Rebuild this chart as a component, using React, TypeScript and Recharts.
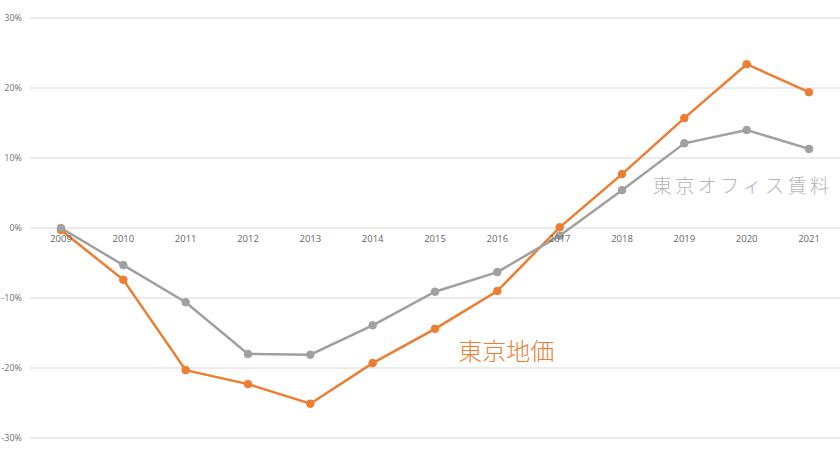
import React from "react";
import { CartesianGrid, LineChart, Line, XAxis, YAxis, ReferenceDot } from "recharts";

const years = ["2009", "2010", "2011", "2012", "2013", "2014", "2015", "2016", "2017", "2018", "2019", "2020", "2021"];
const landPrice = [-0.3, -7.4, -20.3, -22.3, -25.1, -19.3, -14.4, -9.0, 0.1, 7.7, 15.7, 23.4, 19.4];
const officeRent = [0, -5.3, -10.6, -18.0, -18.1, -13.9, -9.1, -6.3, -1.1, 5.4, 12.1, 14.0, 11.3];
const yTicks = [-30, -20, -10, 0, 10, 20, 30];

const data = years.map((year, i) => ({
  year,
  land: landPrice[i],
  office: officeRent[i],
}));

const ORANGE = "#ED7D31";
const GRAY = "#A0A0A0";
const JP_FONT = "'Noto Sans CJK JP', sans-serif";

function App() {
  return (
    <div style={{ position: "absolute", left: 0, top: 0 }}>
      <LineChart
        width={840}
        height={456}
        data={data}
        margin={{ top: 18, right: 0, bottom: 18, left: 0 }}
      >
        <CartesianGrid vertical={false} stroke="#e4e4e4" strokeWidth={1.5} />
        <XAxis dataKey="year" hide padding={{ left: 31, right: 31 }} />
        <YAxis
          width={30}
          domain={[-30, 30]}
          ticks={yTicks}
          tickFormatter={(v) => `${v}%`}
          axisLine={false}
          tickLine={false}
          tick={{ fontSize: 9, fill: "#707070", fontFamily: "'Open Sans', sans-serif" }}
        />
        {years.map((y) => (
          <ReferenceDot
            key={y}
            x={y}
            y={0}
            r={0}
            stroke="none"
            label={{
              value: y,
              position: "bottom",
              offset: 7,
              fontSize: 9.5,
              fill: "#666",
              fontFamily: "'Open Sans', sans-serif",
            }}
          />
        ))}
        <Line
          dataKey="land"
          stroke={ORANGE}
          strokeWidth={2.5}
          dot={{ r: 3.8, fill: ORANGE, stroke: ORANGE, strokeWidth: 1 }}
          isAnimationActive={false}
        />
        <Line
          dataKey="office"
          stroke={GRAY}
          strokeWidth={2.5}
          dot={{ r: 3.8, fill: GRAY, stroke: GRAY, strokeWidth: 1 }}
          isAnimationActive={false}
        />
        <ReferenceDot
          x="2016"
          y={-17.7}
          r={0}
          stroke="none"
          label={{
            value: "東京地価",
            position: "center",
            fontSize: 24,
            fill: ORANGE,
            fontFamily: JP_FONT,
            fontWeight: 300,
            dx: 9,
          }}
        />
        <ReferenceDot
          x="2020"
          y={5.9}
          r={0}
          stroke="none"
          label={{
            value: "東京オフィス賃料",
            position: "center",
            fontSize: 19,
            fill: "#b4b4b4",
            fontFamily: JP_FONT,
            fontWeight: 300,
            letterSpacing: 3.5,
            dx: -4,
          }}
        />
      </LineChart>
    </div>
  );
}

export default App;
